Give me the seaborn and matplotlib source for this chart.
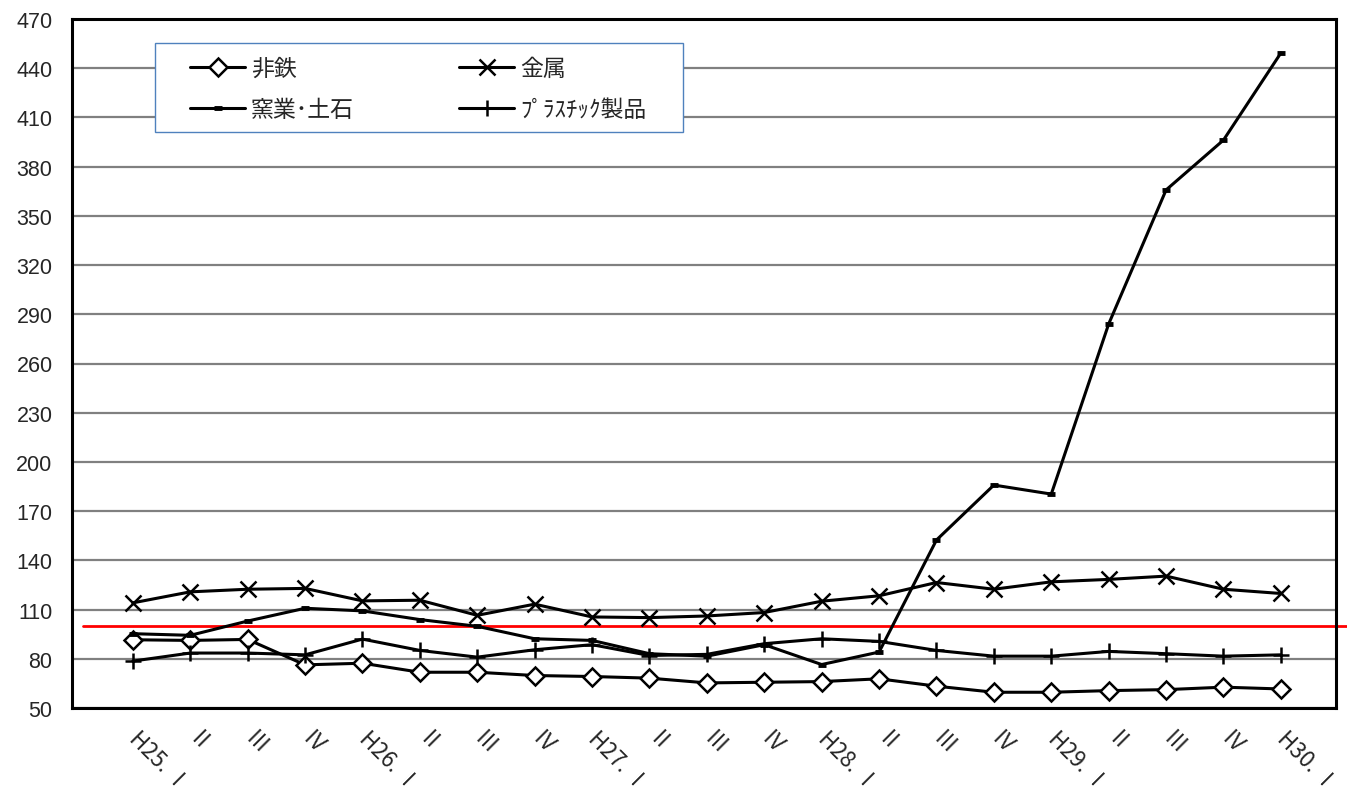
import numpy as np
import pandas as pd
import seaborn as sns
import matplotlib.pyplot as plt
import matplotlib.transforms as mtransforms
from matplotlib.patches import Rectangle

quarters = ['H25. Ⅰ', 'Ⅱ', 'Ⅲ', 'Ⅳ', 'H26. Ⅰ', 'Ⅱ', 'Ⅲ', 'Ⅳ', 'H27. Ⅰ', 'Ⅱ', 'Ⅲ', 'Ⅳ',
            'H28. Ⅰ', 'Ⅱ', 'Ⅲ', 'Ⅳ', 'H29. Ⅰ', 'Ⅱ', 'Ⅲ', 'Ⅳ', 'H30. Ⅰ']

hitetsu = [91.6, 91.2, 91.8, 76.3, 77.3, 71.8, 71.8, 69.8, 69.2, 68.2, 65.3,
           65.7, 66.1, 67.8, 63.3, 59.6, 59.6, 60.6, 61.2, 62.7, 61.6]
kinzoku = [114.1, 120.8, 122.4, 122.9, 115.3, 115.7, 106.5, 113.3, 105.5, 105.1, 106.1,
           108.2, 115.1, 118.4, 126.5, 122.4, 126.9, 128.4, 130.4, 122.4, 119.8]
yogyo = [95.3, 94.3, 103.0, 110.8, 109.2, 103.9, 99.8, 92.2, 91.2, 83.1, 81.6,
         88.6, 76.5, 84.1, 152.4, 185.9, 180.4, 284.1, 365.8, 396.2, 449.3]
plastic = [78.6, 83.5, 83.5, 82.4, 92.0, 85.1, 81.0, 85.5, 88.6, 82.0, 82.7,
           89.2, 92.2, 90.6, 85.1, 81.6, 81.6, 84.5, 83.1, 81.6, 82.4]

base_value = 100
y_ticks = list(range(50, 471, 30))

series = [
    ('非鉄', hitetsu, dict(marker='D', markersize=9, markerfacecolor='white', markeredgecolor='black', markeredgewidth=1.8)),
    ('金属', kinzoku, dict(marker='x', markersize=11, markeredgecolor='black', markeredgewidth=1.8)),
    ('窯業･土石', yogyo, dict(marker='_', markersize=6, markeredgecolor='black', markeredgewidth=3.5)),
    ('ﾌﾟﾗｽﾁｯｸ製品', plastic, dict(marker='+', markersize=12, markeredgecolor='black', markeredgewidth=1.8)),
]

sns.set_style('white')
plt.rcParams['font.family'] = ['Noto Sans CJK JP', 'DejaVu Sans']

fig = plt.figure(figsize=(13.47, 8.03), dpi=100)
ax = fig.add_axes([72 / 1347, 1 - 709 / 803, (1336 - 72) / 1347, (709 - 20) / 803])

x = np.arange(len(quarters))
for name, vals, style in series:
    df = pd.DataFrame({'x': x, 'y': vals})
    sns.lineplot(data=df, x='x', y='y', ax=ax, color='black', linewidth=2.2, label=name, **style)

ax.set_xlim(-1.06, len(quarters) - 0.04)
ax.set_ylim(50, 470)
ax.set_yticks(y_ticks)
ax.set_yticklabels([str(v) for v in y_ticks], fontsize=15.5, family='Liberation Sans')
ax.set_xticks(x)
ax.set_xticklabels(quarters, fontsize=16, rotation=-45, rotation_mode='anchor', ha='left', va='center')
ax.set_xlabel('')
ax.set_ylabel('')

ax.grid(axis='y', color='#808080', linewidth=1.6)
ax.grid(axis='x', visible=False)
ax.set_axisbelow(True)
for sp in ax.spines.values():
    sp.set_visible(True)
    sp.set_color('black')
    sp.set_linewidth(2.2)
ax.tick_params(axis='both', direction='out', length=6, width=1.5, color='black')
ax.tick_params(axis='y', pad=8)
ax.tick_params(axis='x', pad=13)

# 基準線 (=100)
trans = mtransforms.blended_transform_factory(ax.transAxes, ax.transData)
ax.plot([(83 - 72) / 1264, (1347 - 72) / 1264], [base_value, base_value], color='#ff0000',
        linewidth=2, transform=trans, clip_on=False, zorder=1.5)

# 凡例
ax.add_patch(Rectangle((0.0657, 0.836), 0.4177, 0.1292, transform=ax.transAxes,
                       facecolor='white', edgecolor='#4f81bd', linewidth=1.0, zorder=4))
handles, labels = ax.get_legend_handles_labels()
order = [0, 2, 1, 3]
leg = ax.legend([handles[i] for i in order], [labels[i] for i in order], ncol=2,
                loc='upper left', bbox_to_anchor=((190 - 72) / 1264, 1 - (58 - 20) / 689),
                fontsize=16.5, frameon=False, handlelength=2.4, handletextpad=0.25,
                labelspacing=0.8, borderpad=0, borderaxespad=0, columnspacing=4.6)
leg.set_zorder(5)

fig.savefig('out.png', dpi=100)
